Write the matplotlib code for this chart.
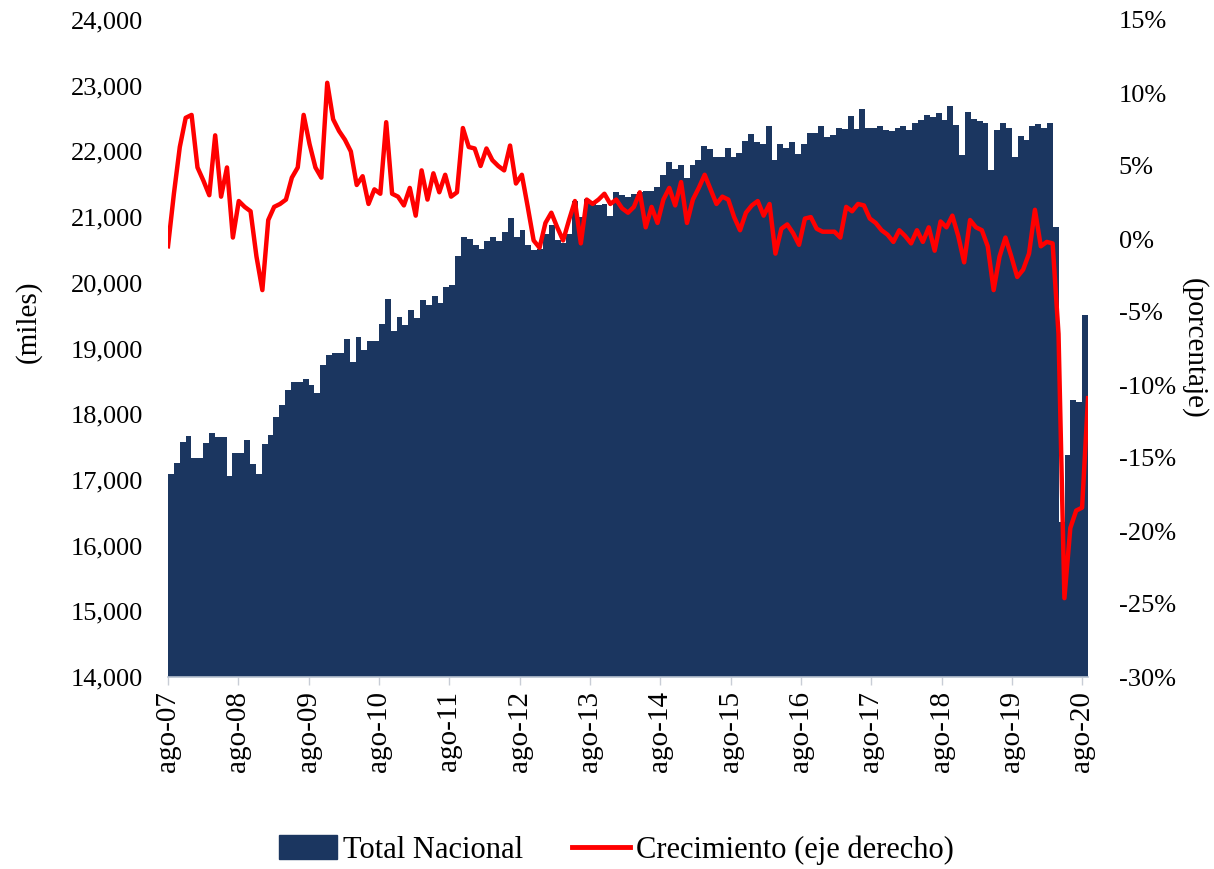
import numpy as np
import matplotlib
matplotlib.use("Agg")
import matplotlib.pyplot as plt
from matplotlib.ticker import FuncFormatter

# Ocupados, total nacional (miles), ago-07 .. ago-20, mensual
ocupados = [
    17090, 17260, 17580, 17670, 17330, 17330, 17560, 17720, 17650, 17650, 17060, 17410,
    17410, 17600, 17240, 17090, 17550, 17680, 17960, 18140, 18370, 18490, 18490, 18530,
    18450, 18320, 18750, 18900, 18930, 18930, 19150, 18800, 19180, 18980, 19120, 19120,
    19380, 19760, 19260, 19480, 19360, 19580, 19460, 19740, 19660, 19800, 19700, 19930,
    19970, 20410, 20700, 20670, 20580, 20520, 20630, 20700, 20630, 20770, 20980, 20700,
    20810, 20580, 20500, 20520, 20750, 20880, 20650, 20600, 20750, 21240, 21000, 21270,
    21250, 21180, 21200, 21010, 21380, 21340, 21300, 21350, 21380, 21400, 21400, 21460,
    21640, 21840, 21730, 21790, 21590, 21800, 21870, 22080, 22040, 21920, 21920, 22050,
    21910, 21980, 22160, 22270, 22150, 22110, 22380, 21870, 22110, 22050, 22140, 21960,
    22120, 22280, 22280, 22380, 22220, 22250, 22350, 22340, 22540, 22340, 22640, 22350,
    22350, 22380, 22330, 22310, 22350, 22380, 22330, 22430, 22480, 22550, 22520, 22580,
    22480, 22690, 22400, 21940, 22600, 22500, 22470, 22430, 21720, 22330, 22430, 22360,
    21920, 22230, 22180, 22380, 22420, 22360, 22430, 20850, 16360, 17380, 18220, 18190,
    19510,
]

# Crecimiento anual (%)
crecimiento = [
    -0.5, 3.1, 6.3, 8.3, 8.5, 4.9, 4.0, 3.0, 7.1, 2.9, 4.9, 0.1,
    2.6, 2.2, 1.9, -1.2, -3.5, 1.3, 2.2, 2.4, 2.7, 4.2, 4.9, 8.5,
    6.5, 4.9, 4.2, 10.7, 8.2, 7.4, 6.8, 6.0, 3.7, 4.3, 2.4, 3.4,
    3.1, 8.0, 3.1, 2.9, 2.3, 3.5, 1.6, 4.7, 2.7, 4.5, 3.2, 4.4,
    2.9, 3.2, 7.6, 6.3, 6.2, 5.0, 6.2, 5.4, 5.0, 4.7, 6.4, 3.8,
    4.4, 2.2, -0.1, -0.6, 1.1, 1.8, 0.8, -0.1, 1.3, 2.6, -0.3, 2.7,
    2.4, 2.7, 3.1, 2.4, 2.7, 2.1, 1.8, 2.2, 3.2, 0.8, 2.2, 1.1,
    2.7, 3.5, 2.3, 3.9, 1.1, 2.7, 3.5, 4.4, 3.4, 2.4, 2.9, 2.7,
    1.5, 0.6, 1.8, 2.3, 2.6, 1.6, 2.4, -1.0, 0.7, 1.0, 0.4, -0.4,
    1.4, 1.5, 0.7, 0.5, 0.5, 0.5, 0.1, 2.2, 1.9, 2.4, 2.3, 1.4,
    1.1, 0.6, 0.3, -0.2, 0.6, 0.2, -0.3, 0.6, -0.2, 0.8, -0.8, 1.2,
    0.8, 1.6, 0.2, -1.6, 1.3, 0.8, 0.6, -0.5, -3.5, -1.2, 0.1, -1.2,
    -2.6, -2.1, -1.0, 2.0, -0.5, -0.2, -0.3, -6.5, -24.6, -19.8, -18.6, -18.4,
    -10.9,
]

etiquetas = ["ago-07", "ago-08", "ago-09", "ago-10", "ago-11", "ago-12", "ago-13",
             "ago-14", "ago-15", "ago-16", "ago-17", "ago-18", "ago-19", "ago-20"]

AZUL = "#1b3660"
ROJO = "#ff0000"
FUENTE = "Liberation Serif"

plt.rcParams["font.family"] = [FUENTE, "DejaVu Serif"]

fig = plt.figure(figsize=(12.14, 8.69), dpi=100)
pos = [168 / 1214, 1 - 677 / 869, 920 / 1214, 657 / 869]
ax = fig.add_axes(pos)

n = len(ocupados)
x = np.arange(n)
ax.bar(x, ocupados, width=1.0, align="edge", color=AZUL, linewidth=0)
ax.set_xlim(0, n)
ax.set_ylim(14000, 24000)
ax.set_yticks(np.arange(14000, 24001, 1000))
ax.yaxis.set_major_formatter(FuncFormatter(lambda v, p: f"{int(v):,}"))
ax.tick_params(axis="y", length=0, pad=18, labelsize=19)
ax.set_xticks(x[::12])
ax.set_xticklabels(etiquetas, rotation=90, fontsize=21)
ax.tick_params(axis="x", length=6, width=1, color="#c8cdd6", pad=4)
for s in ["top", "right", "left"]:
    ax.spines[s].set_visible(False)
ax.spines["bottom"].set_color("#b8c2d0")
ax.spines["bottom"].set_linewidth(1.2)
ax.set_ylabel("(miles)", fontsize=21)
ax.yaxis.set_label_coords(-0.137, 0.54)

# Linea de crecimiento en un eje propio (va de borde a borde)
ax2 = fig.add_axes(pos)
ax2.patch.set_visible(False)
ax2.plot(np.arange(len(crecimiento)), crecimiento, color=ROJO, linewidth=3.2,
         solid_joinstyle="round")
ax2.set_xlim(0, len(crecimiento) - 1)
ax2.set_ylim(-30, 15)
ax2.set_yticks(np.arange(-30, 16, 5))
ax2.yaxis.set_major_formatter(FuncFormatter(lambda v, p: f"{int(v)}%"))
ax2.yaxis.tick_right()
ax2.yaxis.set_label_position("right")
ax2.tick_params(axis="y", length=0, pad=22, labelsize=19)
ax2.set_xticks([])
for s in ax2.spines.values():
    s.set_visible(False)
ax2.set_ylabel("(porcentaje)", fontsize=21, rotation=270, va="center")
ax2.yaxis.set_label_coords(1.115, 0.5)

handles = [plt.Rectangle((0, 0), 1, 1, color=AZUL),
           plt.Line2D([0], [0], color=ROJO, linewidth=3.5)]
fig.legend(handles, ["Total Nacional", "Crecimiento (eje derecho)"],
           loc="center", bbox_to_anchor=(0.508, 1 - 850 / 869), ncol=2,
           frameon=False, fontsize=22, handlelength=1.9, handleheight=0.8,
           handletextpad=0.2, columnspacing=1.6)

fig.savefig("out.png", dpi=100)
